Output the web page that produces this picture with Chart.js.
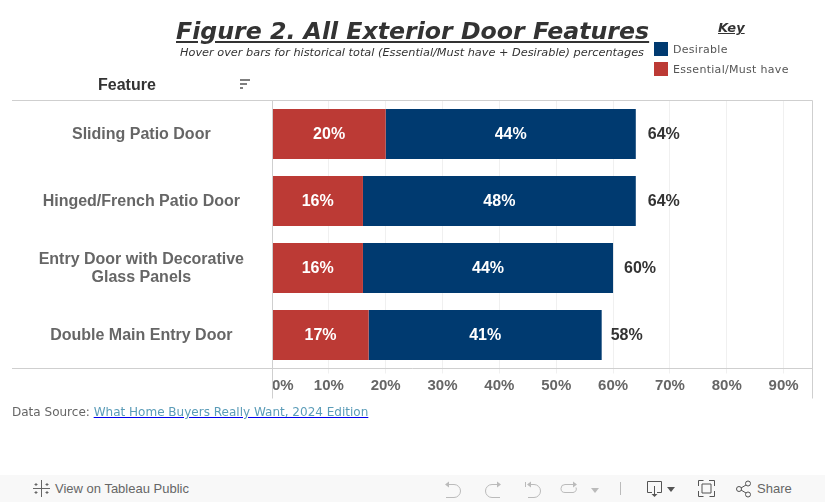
<!DOCTYPE html>
<html>
<head>
<meta charset="utf-8">
<title>Figure 2. All Exterior Door Features</title>
<script src="https://cdn.jsdelivr.net/npm/chart.js@4"></script>
<style>
    html, body { margin: 0; padding: 0; background: #fff; overflow: hidden; }
    #wrap { position: relative; width: 825px; height: 502px; font-family: "DejaVu Sans", sans-serif; }
    #wrap canvas { position: absolute; left: 0; top: 0; }
    .txt { position: absolute; white-space: nowrap; }
    #title { left: 176px; top: 15px; font-size: 23.65px; line-height: 32px; font-weight: bold; font-style: italic; color: #333; text-decoration: underline; }
    #subtitle { left: 180px; top: 46px; font-size: 11.3px; line-height: 14px; font-style: italic; color: #333; }
    #key { left: 718px; top: 20px; font-size: 13px; line-height: 16px; font-weight: bold; font-style: italic; color: #333; text-decoration: underline; }
    .swatch { position: absolute; left: 654px; width: 14px; height: 14px; }
    .legend-label { left: 673px; font-size: 11px; line-height: 14px; color: #555; letter-spacing: 0.3px; }
    #feature { left: 98px; top: 76px; font-family: "Liberation Sans", Arial, sans-serif; font-size: 16px; line-height: 18px; font-weight: bold; color: #333; }
    #source { left: 12px; top: 405px; font-size: 12.03px; line-height: 15px; color: #666; }
    #source a { color: #5b9cb8; text-decoration-color: #0000ee; }
    #toolbar { position: absolute; left: 0; top: 475px; width: 825px; height: 27px; background: #f8f8f8; }
    #toolbar svg { position: absolute; left: 0; top: -475px; }
    .tool-text { font-family: "Liberation Sans", Arial, sans-serif; font-size: 13px; line-height: 14px; color: #666; top: 7px; }
</style>
</head>
<body>
<div id="wrap">
    <canvas id="chart" width="825" height="502"></canvas>
    <div class="txt" id="title">Figure 2. All Exterior Door Features</div>
    <div class="txt" id="subtitle">Hover over bars for historical total (Essential/Must have + Desirable) percentages</div>
    <div class="txt" id="key">Key</div>
    <div class="swatch" style="top:42px;background:#003a70"></div>
    <div class="txt legend-label" style="top:43px">Desirable</div>
    <div class="swatch" style="top:62px;background:#bc3a35"></div>
    <div class="txt legend-label" style="top:63px">Essential/Must have</div>
    <div class="txt" id="feature">Feature</div>
    <svg style="position:absolute;left:0;top:0" width="825" height="110">
        <path d="M240 80H250M240 84H247M240 88H243" stroke="#555" stroke-width="1.5" fill="none"/>
    </svg>
    <div class="txt" id="source">Data Source: <a href="#">What Home Buyers Really Want, 2024 Edition</a></div>
    <div id="toolbar">
        <svg width="825" height="502" fill="none" stroke="#bbb" stroke-width="1">
            <g stroke="#666">
                <path d="M41.500 480v6M41.500 491v6M33 488.500h6M44 488.500h6M36 483v3M34.500 484.500h3M47 483v3M45.500 484.500h3M36 491v3M34.500 492.500h3M47 491v3M45.500 492.500h3M41.500 486v5M39 488.500h5"/>
            </g>
            <path d="M448 484.500h6a6.500 6.500 0 0 1 0 13h-8"/>
            <path d="M445 484.500l4-3v6z" fill="#bbb" stroke="none"/>
            <path d="M498 484.500h-6a6.500 6.500 0 0 0 0 13h8"/>
            <path d="M501 484.500l-4-3v6z" fill="#bbb" stroke="none"/>
            <path d="M525.500 482v5M530 484.500h4a6.500 6.500 0 0 1 0 13h-6"/>
            <path d="M527 484.500l4-3v6z" fill="#bbb" stroke="none"/>
            <path d="M573 484.500h-8a3.500 3.500 0 0 0 0 8h8a3.500 3.500 0 0 0 3-5"/>
            <path d="M577 484.500l-4-3v6z" fill="#bbb" stroke="none"/>
            <path d="M591 488h8l-4 5z" fill="#bbb" stroke="none"/>
            <path d="M620.500 482v13"/>
            <g stroke="#555">
                <path d="M652 492.500h-4.500v-11h14v11h-4.500M654.500 486v10"/>
                <path d="M651.500 494l3 3 3-3" fill="#555" stroke="none"/>
                <path d="M667 487h8l-4 5z" fill="#555" stroke="none"/>
                <path d="M698.500 486v-5.500h5M709 480.500h5.500v5.500M714.500 491v5.500h-5M703.500 496.500h-5v-5.500M702 484h9v9h-9z"/>
                <circle cx="739" cy="489" r="2.500"/><circle cx="748" cy="483.500" r="2.500"/><circle cx="748" cy="494.500" r="2.500"/>
                <path d="M741 488l5-3M741 490l5 3"/>
            </g>
        </svg>
        <div class="txt tool-text" style="left:55px">View on Tableau Public</div>
        <div class="txt tool-text" style="left:757px">Share</div>
    </div>
</div>
<script>
const categories = ['Sliding Patio Door', 'Hinged/French Patio Door', ['Entry Door with Decorative', 'Glass Panels'], 'Double Main Entry Door'];
const essential = [20, 16, 16, 17];
const desirable = [44, 48, 44, 41];
const totals = [64, 64, 60, 58];

// labels inside the bars and the totals past the bar end
const barLabels = {
    id: 'barLabels',
    afterDatasetsDraw(chart) {
        const ctx = chart.ctx;
        const gaps = [12, 12, 11, 9];
        ctx.save();
        ctx.font = 'bold 16px "Liberation Sans", Arial, sans-serif';
        ctx.textBaseline = 'middle';
        chart.data.datasets.forEach((ds, i) => {
            chart.getDatasetMeta(i).data.forEach((bar, j) => {
                const c = bar.getCenterPoint();
                ctx.fillStyle = '#fff';
                ctx.textAlign = 'center';
                ctx.fillText(ds.data[j] + '%', c.x, c.y + 1);
                if (i === 1) {
                    ctx.fillStyle = '#333';
                    ctx.textAlign = 'left';
                    ctx.fillText(totals[j] + '%', bar.x + gaps[j], c.y + 1);
                }
            });
        });
        ctx.restore();
    }
};

// header/footer rules and the side lines that run down past the axis
const frame = {
    id: 'frame',
    afterDraw(chart) {
        const a = chart.chartArea, ctx = chart.ctx;
        const top = Math.floor(a.top) + 0.5, bottom = Math.floor(a.bottom) + 0.5;
        ctx.save();
        ctx.strokeStyle = '#cfcfcf';
        ctx.lineWidth = 1;
        ctx.beginPath();
        ctx.moveTo(12, top); ctx.lineTo(a.right + 0.5, top);
        ctx.moveTo(12, bottom); ctx.lineTo(a.right + 0.5, bottom);
        ctx.moveTo(a.left + 0.5, top); ctx.lineTo(a.left + 0.5, bottom + 30);
        ctx.moveTo(a.right + 0.5, top); ctx.lineTo(a.right + 0.5, bottom + 30);
        ctx.stroke();
        ctx.restore();
    }
};

new Chart(document.getElementById('chart'), {
    type: 'bar',
    data: {
        labels: categories,
        datasets: [
            { label: 'Essential/Must have', data: essential, backgroundColor: '#bc3a35' },
            { label: 'Desirable', data: desirable, backgroundColor: '#003a70' }
        ]
    },
    options: {
        indexAxis: 'y',
        responsive: false,
        animation: false,
        events: [],
        barPercentage: 0.746,
        categoryPercentage: 1,
        layout: { padding: { left: 12, top: 100.5, right: 13, bottom: 103.5 } },
        plugins: { legend: { display: false }, title: { display: false }, tooltip: { enabled: false } },
        scales: {
            x: {
                stacked: true,
                min: 0,
                max: 95,
                afterFit(scale) { scale.height = 30; },
                grid: { color: '#f0f0f0', tickColor: '#f0f0f0', tickLength: 5 },
                border: { display: false },
                ticks: {
                    stepSize: 10,
                    autoSkip: false,
                    maxRotation: 0,
                    align: 'inner',
                    padding: 3,
                    color: '#666',
                    font: { family: '"Liberation Sans", Arial, sans-serif', size: 15, weight: 'bold' },
                    callback: v => (v % 10 === 0 ? v + '%' : '')
                }
            },
            y: {
                stacked: true,
                afterFit(scale) { scale.width = 260; },
                grid: { display: false },
                border: { display: false },
                ticks: {
                    crossAlign: 'center',
                    padding: 20,
                    labelOffset: 1,
                    color: '#666',
                    font: { family: '"Liberation Sans", Arial, sans-serif', size: 16, weight: 'bold', lineHeight: 1.125 }
                }
            }
        }
    },
    plugins: [barLabels, frame]
});
</script>
</body>
</html>
